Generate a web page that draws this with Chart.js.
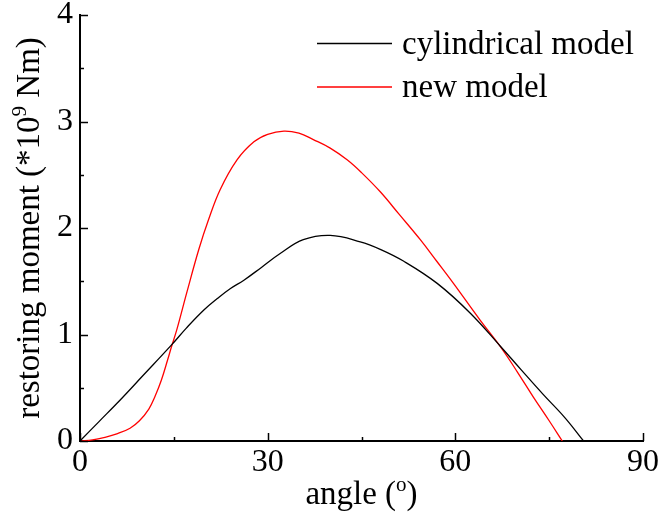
<!DOCTYPE html>
<html>
<head>
<meta charset="utf-8">
<script src="https://cdn.jsdelivr.net/npm/chart.js@4.4.1/dist/chart.umd.min.js"></script>
<style>
html,body{margin:0;padding:0;background:#fff;}
#wrap{width:660px;height:517px;position:relative;}
</style>
</head>
<body>
<div id="wrap"><canvas id="c" width="660" height="517"></canvas></div>
<script>
// ---- data ----
const cylAngles = [0, 3, 6.5, 10, 14.6, 17, 19.8, 22, 24, 26.2, 29, 32, 35.7, 40, 44.8, 48, 51.7, 57.1, 62.4, 67.2, 70.5, 74, 77.5, 80.5];
const cylMoment = [0, 0.18, 0.39, 0.61, 0.90, 1.06, 1.23, 1.34, 1.43, 1.51, 1.63, 1.76, 1.89, 1.93, 1.87, 1.80, 1.69, 1.48, 1.20, 0.89, 0.67, 0.44, 0.22, 0];
const newAngles = [0, 2, 4, 6, 8, 9.5, 11, 12, 13, 14, 14.6, 15.5, 17.1, 19, 20.5, 22.4, 25.1, 27.8, 30, 32.6, 35, 37.3, 40, 42.7, 45, 48, 51, 54.4, 57, 59.7, 63.9, 67.4, 70, 72.5, 75, 77.1];
const newMoment = [0, 0.01, 0.035, 0.07, 0.12, 0.19, 0.30, 0.42, 0.57, 0.76, 0.88, 1.05, 1.40, 1.80, 2.07, 2.36, 2.64, 2.81, 2.88, 2.91, 2.89, 2.83, 2.75, 2.64, 2.52, 2.34, 2.13, 1.89, 1.69, 1.48, 1.14, 0.87, 0.64, 0.41, 0.19, 0];
const seriesNames = ['cylindrical model', 'new model'];
const xTickValues = [0, 30, 60, 90];
const yTickValues = [0, 1, 2, 3, 4];

const FONT = '"Liberation Serif", "Times New Roman", serif';

function pts(xs, ys){ return xs.map((x,i)=>({x:x, y:ys[i]})); }

const decor = {
  id: 'decor',
  afterDraw(chart){
    const ctx = chart.ctx;
    const xs = chart.scales.x, ys = chart.scales.y;
    const ca = chart.chartArea;
    ctx.save();
    // inward tick marks (major + minor)
    ctx.strokeStyle = '#000';
    ctx.lineWidth = 1.5;
    for (let v = 0; v <= 90; v += 15){
      const px = Math.round(xs.getPixelForValue(v)) + 0.5;
      const len = (v % 30 === 0) ? 8 : 4;
      ctx.beginPath(); ctx.moveTo(px, ca.bottom); ctx.lineTo(px, ca.bottom - len); ctx.stroke();
    }
    for (let v = 0; v <= 4.001; v += 0.5){
      const py = Math.round(ys.getPixelForValue(v)) + 0.5;
      const len = (Math.abs(v - Math.round(v)) < 1e-6) ? 8 : 4;
      ctx.beginPath(); ctx.moveTo(ca.left, py); ctx.lineTo(ca.left + len, py); ctx.stroke();
    }
    // x axis title with superscript
    ctx.fillStyle = '#000';
    ctx.textBaseline = 'alphabetic';
    ctx.textAlign = 'left';
    const big = '33px ' + FONT, small = '21px ' + FONT;
    const p1 = 'angle (', p2 = 'o', p3 = ')';
    ctx.font = big; const w1 = ctx.measureText(p1).width, w3 = ctx.measureText(p3).width;
    ctx.font = small; const w2 = ctx.measureText(p2).width;
    let x0 = (ca.left + ca.right)/2 - (w1 + w2 + w3)/2;
    const by = 504;
    ctx.font = big; ctx.fillText(p1, x0, by);
    ctx.font = small; ctx.fillText(p2, x0 + w1, by - 13);
    ctx.font = big; ctx.fillText(p3, x0 + w1 + w2, by);
    // y axis title, rotated
    const q1 = 'restoring moment (*10', q2 = '9', q3 = ' Nm)';
    ctx.font = big; const v1 = ctx.measureText(q1).width, v3 = ctx.measureText(q3).width;
    ctx.font = small; const v2 = ctx.measureText(q2).width;
    ctx.translate(39, (ca.top + ca.bottom)/2);
    ctx.rotate(-Math.PI/2);
    let s = -(v1 + v2 + v3)/2;
    ctx.font = big; ctx.fillText(q1, s, 0);
    ctx.font = small; ctx.fillText(q2, s + v1, -13);
    ctx.font = big; ctx.fillText(q3, s + v1 + v2, 0);
    ctx.setTransform(1,0,0,1,0,0);
    // legend
    const rows = [{y: 43.5}, {y: 87}];
    chart.data.datasets.forEach((ds, i) => {
      const ly = rows[i].y;
      ctx.strokeStyle = ds.borderColor;
      ctx.lineWidth = 1.3;
      ctx.beginPath(); ctx.moveTo(317, ly); ctx.lineTo(392, ly); ctx.stroke();
      ctx.fillStyle = '#000';
      ctx.font = big;
      ctx.fillText(ds.label, 402, ly + 10);
    });
    ctx.restore();
  }
};

new Chart(document.getElementById('c'), {
  type: 'line',
  data: {
    datasets: [
      {label: seriesNames[0], data: pts(cylAngles, cylMoment), borderColor: '#000000', borderWidth: 1.3, pointRadius: 0, tension: 0.4, fill: false},
      {label: seriesNames[1], data: pts(newAngles, newMoment), borderColor: '#ff0000', borderWidth: 1.3, pointRadius: 0, tension: 0.4, fill: false}
    ]
  },
  options: {
    responsive: false,
    animation: false,
    devicePixelRatio: 1,
    layout: {padding: {top: 15, right: 17, left: 0, bottom: 0}},
    plugins: {legend: {display: false}, tooltip: {enabled: false}},
    scales: {
      x: {
        type: 'linear', min: 0, max: 90,
        afterBuildTicks: (sc) => { sc.ticks = xTickValues.map(v => ({value: v})); },
        afterFit: (sc) => { sc.height = 76; sc.paddingLeft = 0; sc.paddingRight = 0; },
        grid: {display: false, drawTicks: false},
        border: {display: true, color: '#000', width: 2},
        ticks: {autoSkip: false, maxRotation: 0, padding: 6, color: '#000', font: {family: FONT, size: 32, lineHeight: 1}}
      },
      y: {
        type: 'linear', min: 0, max: 4,
        afterBuildTicks: (sc) => { sc.ticks = yTickValues.map(v => ({value: v})); },
        afterFit: (sc) => { sc.width = 80; sc.paddingTop = 0; sc.paddingBottom = 0; },
        grid: {display: false, drawTicks: false},
        border: {display: true, color: '#000', width: 2},
        ticks: {autoSkip: false, padding: 7, color: '#000', font: {family: FONT, size: 32, lineHeight: 1}}
      }
    }
  },
  plugins: [decor]
});
</script>
</body>
</html>
